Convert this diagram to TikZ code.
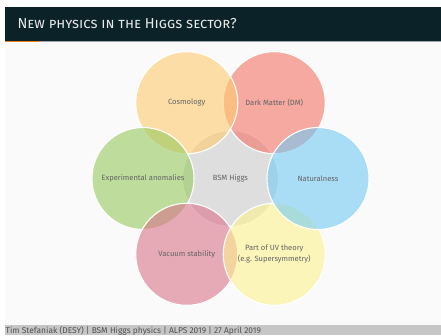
\documentclass[tikz,border=0pt]{standalone}
\usepackage{fontspec}
\setmainfont{Fira Sans}
\definecolor{titlebg}{HTML}{0B2328}
\definecolor{titlefg}{HTML}{E8E8E8}
\definecolor{framebg}{HTML}{FAFAFA}
\definecolor{progorange}{HTML}{EB811B}
\definecolor{proggray}{HTML}{9EA3A3}
\definecolor{footbg}{HTML}{C6C6C6}
\definecolor{footfg}{HTML}{505050}
\definecolor{labelfg}{HTML}{646464}
\definecolor{cgray}{HTML}{DEDEDE}
\definecolor{ccosmo}{RGB}{255,203,110}
\definecolor{cdm}{RGB}{242,115,103}
\definecolor{cexp}{RGB}{150,202,95}
\definecolor{cnat}{RGB}{115,202,242}
\definecolor{cvac}{RGB}{217,115,138}
\definecolor{cuv}{RGB}{253,242,143}
\begin{document}
\begin{tikzpicture}[x=0.832pt,y=-0.832pt,
  bubble/.style={circle, inner sep=0pt, minimum size=84.9pt, draw=white, line width=0.9pt,
    fill=#1, fill opacity=0.6, text opacity=1, text=labelfg, align=center,
    font=\fontsize{6.3}{9}\selectfont},
  hub/.style={circle, inner sep=0pt, minimum size=80pt, draw=white, line width=0.9pt,
    fill=cgray, text=labelfg, font=\fontsize{6.3}{9}\selectfont}]
\useasboundingbox (0,0) rectangle (441,335);
\fill[white] (0,0) rectangle (441,335);
% frame background
\fill[framebg] (5,41) rectangle (441,325);
% title bar
\fill[titlebg] (5,7) rectangle (441,41);
\fill[proggray] (5,41) rectangle (441,42.2);
\fill[progorange] (5,41) rectangle (39,42.2);
\node[anchor=base west, inner sep=0pt, text=titlefg, font=\fontsize{12}{14}\selectfont\scshape] (title) at (17.3,28.7) {New physics in the Higgs sector?};
% footer
\fill[footbg] (5,325) rectangle (441,335);
\node[anchor=base west, inner sep=0pt, text=footfg, font=\fontsize{7}{8}\selectfont] (foot) at (5.5,333.3) {Tim Stefaniak (DESY) | BSM Higgs physics | ALPS 2019 | 27 April 2019};
% diagram
\node[hub] (hub) at (230.5,178.5) {BSM Higgs};
\node[bubble=cdm] (dm) at (274.25,102.7) {Dark Matter (DM)};
\node[bubble=ccosmo] (cosmo) at (186.75,102.7) {Cosmology};
\node[bubble=cexp] (exp) at (143,178.5) {Experimental anomalies};
\node[bubble=cvac] (vac) at (186.75,254.3) {Vacuum stability};
\node[bubble=cuv] (uv) at (274.25,254.3) {Part of UV theory\\(e.g. Supersymmetry)};
\node[bubble=cnat] (nat) at (318,178.5) {Naturalness};
\end{tikzpicture}
\end{document}
